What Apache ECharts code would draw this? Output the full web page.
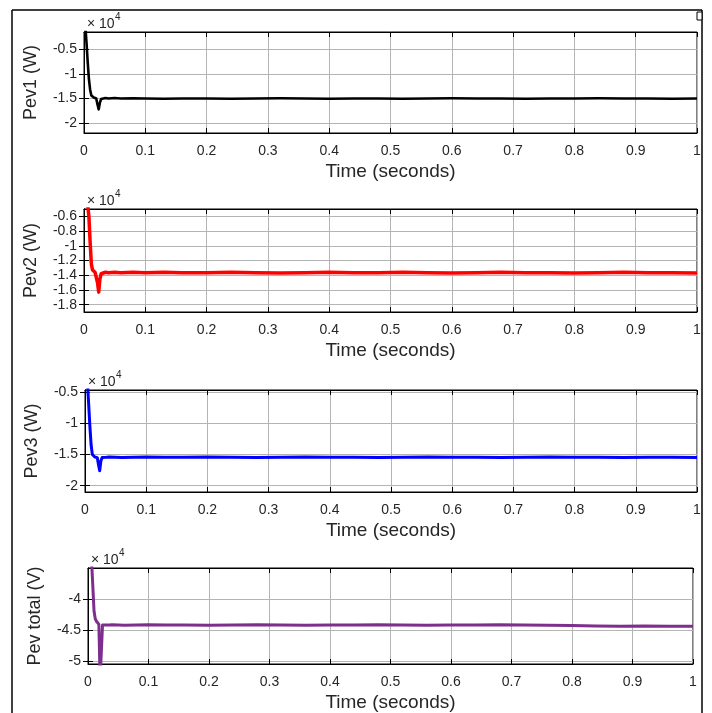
<!DOCTYPE html>
<html>
<head>
<meta charset="utf-8">
<script src="https://cdn.jsdelivr.net/npm/echarts@6/dist/echarts.min.js"></script>
<style>
  html, body { margin: 0; padding: 0; background: #fff; }
  #chart { width: 712px; height: 713px; }
</style>
</head>
<body>
<div id="chart"></div>
<script>
// time axis (seconds), shared by all four traces
const time = [0, 0.002, 0.004, 0.006, 0.008, 0.010, 0.012, 0.014, 0.016, 0.018, 0.020, 0.022, 0.024, 0.026, 0.028, 0.030,
  0.035, 0.04, 0.05, 0.06, 0.08, 0.1, 0.13, 0.16,
  0.2, 0.24, 0.28, 0.32, 0.36, 0.4, 0.44, 0.48, 0.52, 0.56, 0.6, 0.64, 0.68, 0.72, 0.76, 0.8, 0.84, 0.88, 0.92, 0.96, 1.0];

// power values, in units of 10^4
const pev1 = [0.2, 0.0, -0.35, -0.75, -1.1, -1.32, -1.44, -1.47, -1.48, -1.49, -1.5, -1.62, -1.72, -1.58, -1.51, -1.5,
  -1.49, -1.5, -1.49, -1.5, -1.495, -1.5, -1.505, -1.5,
  -1.5, -1.505, -1.5, -1.495, -1.5, -1.505, -1.5, -1.5, -1.505, -1.5, -1.495, -1.5, -1.5, -1.505, -1.5, -1.5, -1.495, -1.5, -1.5, -1.505, -1.5];
const pev2 = [0.0, -0.1, -0.3, -0.45, -0.6, -0.95, -1.25, -1.33, -1.35, -1.36, -1.37, -1.5, -1.63, -1.45, -1.38, -1.37,
  -1.36, -1.365, -1.36, -1.365, -1.36, -1.365, -1.36, -1.365,
  -1.365, -1.36, -1.365, -1.37, -1.365, -1.36, -1.365, -1.365, -1.36, -1.365, -1.37, -1.365, -1.36, -1.365, -1.365, -1.37, -1.365, -1.36, -1.365, -1.365, -1.37];
const pev3 = [0.0, -0.1, -0.35, -0.7, -1.05, -1.35, -1.5, -1.53, -1.54, -1.54, -1.55, -1.66, -1.76, -1.6, -1.55, -1.54,
  -1.545, -1.54, -1.545, -1.55, -1.545, -1.54, -1.545, -1.545,
  -1.54, -1.545, -1.55, -1.545, -1.54, -1.545, -1.545, -1.55, -1.545, -1.54, -1.545, -1.545, -1.55, -1.545, -1.54, -1.545, -1.545, -1.55, -1.545, -1.545, -1.55];
const pevTotal = [-2.5, -2.8, -3.1, -3.4, -3.8, -4.2, -4.32, -4.36, -4.38, -4.41, -5.3, -5.3, -4.42, -4.41, -4.42, -4.41,
  -4.42, -4.415, -4.42, -4.425, -4.42, -4.415, -4.42, -4.42,
  -4.425, -4.42, -4.415, -4.42, -4.425, -4.42, -4.42, -4.415, -4.42, -4.425, -4.42, -4.42, -4.415, -4.42, -4.425, -4.43, -4.435, -4.44, -4.435, -4.44, -4.44];

// y tick labels per panel
const yTicks1 = [-2, -1.5, -1, -0.5];
const yTicks2 = [-1.8, -1.6, -1.4, -1.2, -1, -0.8, -0.6];
const yTicks3 = [-2, -1.5, -1, -0.5];
const yTicks4 = [-5, -4.5, -4];

const panels = [
  { name: 'Pev1 (W)', data: pev1, ticks: yTicks1, min: -2.2, max: -0.15, color: '#000000', width: 2.6,
    left: 84, top: 32, right: 15, height: 101 },
  { name: 'Pev2 (W)', data: pev2, ticks: yTicks2, min: -1.9, max: -0.5, color: '#ff0000', width: 3.5,
    left: 84, top: 209, right: 15, height: 103 },
  { name: 'Pev3 (W)', data: pev3, ticks: yTicks3, min: -2.1, max: -0.47, color: '#0000ff', width: 3,
    left: 85, top: 390, right: 15, height: 102 },
  { name: 'Pev total (V)', data: pevTotal, ticks: yTicks4, min: -5.05, max: -3.5, color: '#7e2f8e', width: 3,
    left: 88, top: 568, right: 19, height: 98 }
];

const textColor = '#262626';
const font = 'Liberation Sans, Arial, sans-serif';
const gridColor = '#b4b4b4';

const grids = [], xAxes = [], yAxes = [], series = [], graphics = [];

panels.forEach((p, i) => {
  grids.push({
    left: p.left, top: p.top, right: p.right, height: p.height,
    show: true, borderColor: '#000', borderWidth: 1, backgroundColor: '#fff'
  });
  // bottom x axis
  xAxes.push({
    type: 'value', gridIndex: i, min: 0, max: 1, interval: 0.1,
    name: 'Time (seconds)', nameLocation: 'middle', nameGap: 29,
    nameTextStyle: { color: textColor, fontSize: 19, fontFamily: font },
    axisLine: { lineStyle: { color: '#000' } },
    axisTick: { inside: true, length: 5, lineStyle: { color: '#000' } },
    axisLabel: { color: textColor, fontSize: 14, fontFamily: font, margin: 11 },
    splitLine: { show: true, lineStyle: { color: gridColor, width: 1 } }
  });
  // top x axis, ticks only
  xAxes.push({
    type: 'value', gridIndex: i, min: 0, max: 1, interval: 0.1, position: 'top',
    axisLine: { lineStyle: { color: '#000' } },
    axisTick: { inside: true, length: 5, lineStyle: { color: '#000' } },
    axisLabel: { show: false }, splitLine: { show: false }
  });
  // left y axis
  yAxes.push({
    type: 'value', gridIndex: i, min: p.min, max: p.max,
    name: p.name, nameLocation: 'middle', nameGap: 44,
    nameTextStyle: { color: textColor, fontSize: 18, fontFamily: font },
    axisLine: { show: true, lineStyle: { color: '#000' } },
    axisTick: { inside: true, length: 5, customValues: p.ticks, lineStyle: { color: '#000' } },
    axisLabel: { color: textColor, fontSize: 14, fontFamily: font, margin: 7, customValues: p.ticks },
    splitLine: { show: true, lineStyle: { color: gridColor, width: 1 } }
  });
  // right y axis, ticks only
  yAxes.push({
    type: 'value', gridIndex: i, min: p.min, max: p.max, position: 'right',
    axisLine: { show: true, lineStyle: { color: '#000' } },
    axisTick: { inside: true, length: 5, customValues: p.ticks, lineStyle: { color: '#000' } },
    axisLabel: { show: false, customValues: p.ticks }, splitLine: { show: false }
  });
  series.push({
    type: 'line', xAxisIndex: i * 2, yAxisIndex: i * 2,
    data: time.map((t, k) => [t, p.data[k]]),
    showSymbol: false, clip: true, animation: false,
    lineStyle: { color: p.color, width: p.width, join: 'round' }
  });
  // "x 10^4" multiplier
  graphics.push({
    type: 'text', left: p.left + 3, top: p.top - 15,
    style: { text: '× 10', fill: textColor, fontSize: 14, fontFamily: font }
  });
  graphics.push({
    type: 'text', left: p.left + 31, top: p.top - 20,
    style: { text: '4', fill: textColor, fontSize: 10, fontFamily: font }
  });
});

// figure frame
graphics.push({ type: 'line', shape: { x1: 12, y1: 10, x2: 12, y2: 713 }, style: { stroke: '#000', lineWidth: 1.5 } });
graphics.push({ type: 'line', shape: { x1: 12, y1: 10, x2: 702, y2: 10 }, style: { stroke: '#000', lineWidth: 1.5 } });
graphics.push({ type: 'line', shape: { x1: 702, y1: 10, x2: 702, y2: 713 }, style: { stroke: '#000', lineWidth: 1.5 } });
graphics.push({ type: 'rect', shape: { x: 697, y: 12, width: 5, height: 8 }, style: { fill: '#fff', stroke: '#000', lineWidth: 1 } });

const chart = echarts.init(document.getElementById('chart'), null, { renderer: 'canvas' });
chart.setOption({
  animation: false,
  backgroundColor: '#fff',
  grid: grids,
  xAxis: xAxes,
  yAxis: yAxes,
  series: series,
  graphic: graphics
});
</script>
</body>
</html>
